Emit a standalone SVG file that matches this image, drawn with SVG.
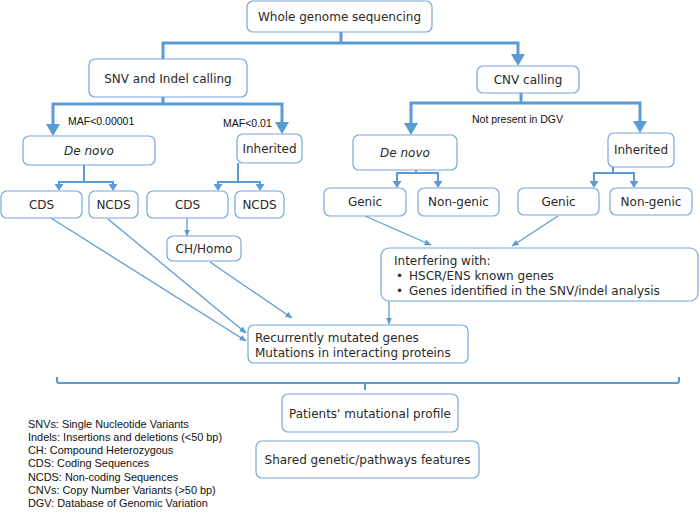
<svg xmlns="http://www.w3.org/2000/svg" width="700" height="516" viewBox="0 0 700 516">
<style>
.box{fill:#fff;stroke:#7BA6DA;stroke-width:1.2}
.t{font-family:"DejaVu Sans",sans-serif;font-size:12px;fill:#2a2a2a}
.c{text-anchor:middle}
.lbl{font-family:"Liberation Sans",Arial,sans-serif;font-size:10.5px;fill:#111}
.leg{font-family:"Liberation Sans",Arial,sans-serif;font-size:10.9px;fill:#111}
.l1{fill:none;stroke:#5B9BD5;stroke-width:3}
.l2{fill:none;stroke:#5B9BD5;stroke-width:2}
.l3{fill:none;stroke:#5B9BD5;stroke-width:1.3}
</style>
<defs>
<marker id="ab" markerUnits="userSpaceOnUse" markerWidth="12" markerHeight="14" viewBox="0 0 12 14" refX="8" refY="7" orient="auto-start-reverse"><path d="M0,0 L12,7 L0,14 z" fill="#5B9BD5"/></marker>
<marker id="am" markerUnits="userSpaceOnUse" markerWidth="7" markerHeight="9" viewBox="0 0 7 9" refX="4" refY="4.5" orient="auto-start-reverse"><path d="M0,0 L7,4.5 L0,9 z" fill="#5B9BD5"/></marker>
<marker id="as" markerUnits="userSpaceOnUse" markerWidth="7" markerHeight="6" viewBox="0 0 7 6" refX="6.5" refY="3" orient="auto"><path d="M0,0 L7,3 L0,6 z" fill="#5B9BD5"/></marker>
</defs>

<g id="connectors">
<path class="l1" d="M341,32 V43"/>
<path class="l1" d="M163,59 V43 H518 V62" marker-end="url(#ab)"/>
<path class="l1" d="M163,97 V104"/>
<path class="l1" d="M53,132 V104 H282 V130" marker-start="url(#ab)" marker-end="url(#ab)"/>
<path class="l1" d="M521,93 V103"/>
<path class="l1" d="M411,131 V103 H640 V129" marker-start="url(#ab)" marker-end="url(#ab)"/>
<path class="l2" d="M84,165 V182"/>
<path class="l2" d="M59,188 V182 H113 V188" marker-start="url(#am)" marker-end="url(#am)"/>
<path class="l2" d="M238,163 V182"/>
<path class="l2" d="M218,188 V182 H260 V188" marker-start="url(#am)" marker-end="url(#am)"/>
<path class="l2" d="M416,170 V173"/>
<path class="l2" d="M397,185 V173 H438 V185" marker-start="url(#am)" marker-end="url(#am)"/>
<path class="l2" d="M613,167 V173"/>
<path class="l2" d="M594,185 V173 H634 V185" marker-start="url(#am)" marker-end="url(#am)"/>
<path class="l3" d="M187,218 V236" marker-end="url(#as)"/>
<path class="l3" d="M51,218 L246,341" marker-end="url(#as)"/>
<path class="l3" d="M108,219 L246,333" marker-end="url(#as)"/>
<path class="l3" d="M210,262 L292,318" marker-end="url(#as)"/>
<path class="l3" d="M365,216 L431,245" marker-end="url(#as)"/>
<path class="l3" d="M558,216 L512,246" marker-end="url(#as)"/>
<path class="l3" d="M389,301 V324" marker-end="url(#as)"/>
<path class="l2" d="M57,377 V381 Q57,383 59,383 H677 Q679,383 679,381 V377 M365,383 V390"/>
</g>

<g id="wgs"><rect class="box" x="247" y="1" width="185" height="31" rx="6"/><text class="t c" x="339.5" y="21">Whole genome sequencing</text></g>
<g id="snv"><rect class="box" x="89" y="59" width="158" height="38" rx="6"/><text class="t c" x="168" y="83">SNV and Indel calling</text></g>
<g id="cnv"><rect class="box" x="477" y="66" width="102" height="27" rx="6"/><text class="t c" x="528" y="84">CNV calling</text></g>

<text class="lbl" x="68" y="125">MAF&lt;0.00001</text>
<text class="lbl" x="223" y="127">MAF&lt;0.01</text>
<text class="lbl" x="472" y="123">Not present in DGV</text>

<g id="denovo-snv"><rect class="box" x="23" y="136" width="132" height="29" rx="6"/><text class="t c" x="89" y="155" font-style="italic">De novo</text></g>
<g id="inherited-snv"><rect class="box" x="237" y="134" width="65" height="29" rx="6"/><text class="t c" x="269.5" y="153">Inherited</text></g>
<g id="denovo-cnv"><rect class="box" x="353" y="135" width="104" height="35" rx="6"/><text class="t c" x="405" y="157" font-style="italic">De novo</text></g>
<g id="inherited-cnv"><rect class="box" x="608" y="133" width="66" height="34" rx="6"/><text class="t c" x="641" y="154">Inherited</text></g>

<g id="cds1"><rect class="box" x="1" y="191" width="81" height="27" rx="6"/><text class="t c" x="41.5" y="209">CDS</text></g>
<g id="ncds1"><rect class="box" x="89" y="191" width="49" height="27" rx="6"/><text class="t c" x="113.5" y="209">NCDS</text></g>
<g id="cds2"><rect class="box" x="147" y="191" width="81" height="27" rx="6"/><text class="t c" x="187.5" y="209">CDS</text></g>
<g id="ncds2"><rect class="box" x="235" y="191" width="49" height="27" rx="6"/><text class="t c" x="259.5" y="209">NCDS</text></g>
<g id="genic1"><rect class="box" x="324" y="188" width="82" height="28" rx="6"/><text class="t c" x="365" y="206">Genic</text></g>
<g id="nongenic1"><rect class="box" x="418" y="188" width="81" height="28" rx="6"/><text class="t c" x="458.5" y="206">Non-genic</text></g>
<g id="genic2"><rect class="box" x="518" y="188" width="81" height="27" rx="6"/><text class="t c" x="558.5" y="206">Genic</text></g>
<g id="nongenic2"><rect class="box" x="610" y="188" width="82" height="27" rx="6"/><text class="t c" x="651" y="206">Non-genic</text></g>

<g id="chhomo"><rect class="box" x="167" y="236" width="74" height="25" rx="6"/><text class="t c" x="204" y="253">CH/Homo</text></g>

<g id="interfering"><rect class="box" x="381" y="248" width="317" height="53" rx="8"/>
<text class="t" x="394" y="265">Interfering with:</text>
<text class="t" x="396" y="280">•</text><text class="t" x="409" y="280">HSCR/ENS known genes</text>
<text class="t" x="396" y="295">•</text><text class="t" x="409" y="295">Genes identified in the SNV/indel analysis</text>
</g>

<g id="recurrent"><rect class="box" x="248" y="325" width="220" height="38" rx="6"/>
<text class="t" x="255" y="342">Recurrently mutated genes</text>
<text class="t" x="255" y="357">Mutations in interacting proteins</text>
</g>

<g id="profile"><rect class="box" x="282" y="394" width="176" height="38" rx="6"/><text class="t c" x="370" y="418">Patients' mutational profile</text></g>
<g id="shared"><rect class="box" x="256" y="441" width="223" height="37" rx="6"/><text class="t c" x="367.5" y="464">Shared genetic/pathways features</text></g>

<g id="legend">
<text class="leg" x="28" y="428">SNVs: Single Nucleotide Variants</text>
<text class="leg" x="28" y="441">Indels: Insertions and deletions (&lt;50 bp)</text>
<text class="leg" x="28" y="454">CH: Compound Heterozygous</text>
<text class="leg" x="28" y="467">CDS: Coding Sequences</text>
<text class="leg" x="28" y="481">NCDS: Non-coding Sequences</text>
<text class="leg" x="28" y="494">CNVs: Copy Number Variants (&gt;50 bp)</text>
<text class="leg" x="28" y="507">DGV: Database of Genomic Variation</text>
</g>
</svg>
